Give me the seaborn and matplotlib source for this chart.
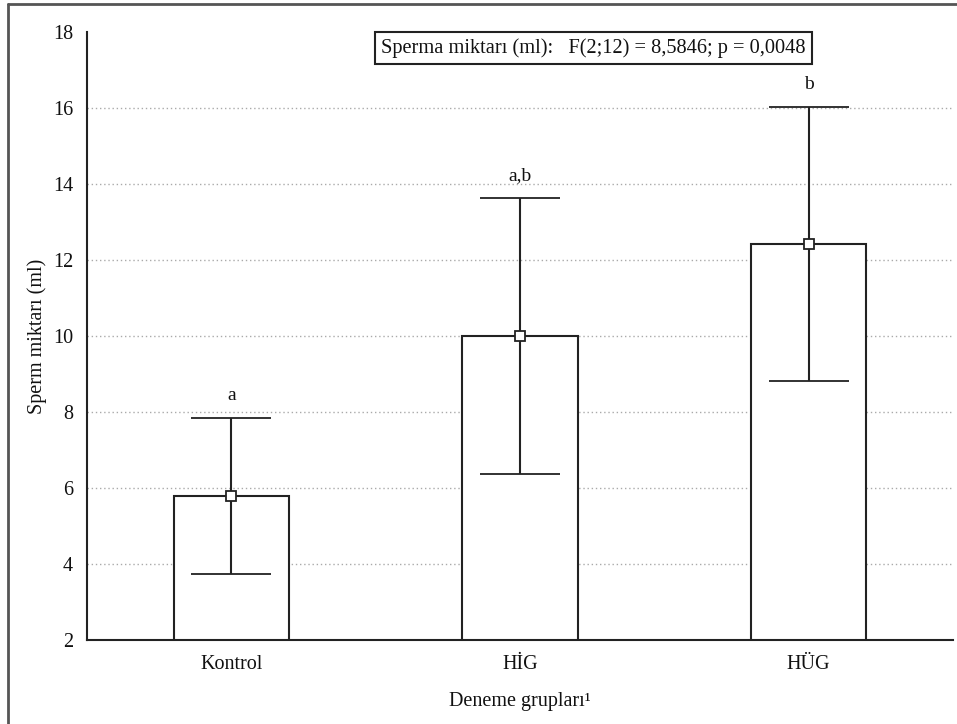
import pandas as pd
import seaborn as sns
import matplotlib
matplotlib.use("Agg")
import matplotlib.pyplot as plt
from matplotlib.lines import Line2D

groups = ["Kontrol", "HİG", "HÜG"]
means = [5.8, 10.0, 12.42]
errs = [2.05, 3.63, 3.6]
letters = ["a", "a,b", "b"]

df = pd.DataFrame({"grup": groups, "sperm": means})

sns.set_style("white")
plt.rcParams["font.family"] = ["Liberation Serif", "DejaVu Serif"]

fig = plt.figure(figsize=(9.57, 7.24), dpi=100)
ax = fig.add_axes([87 / 957, 84 / 724, 866 / 957, 608 / 724])

sns.barplot(data=df, x="grup", y="sperm", color="white", edgecolor="#222222",
            linewidth=1.5, width=0.4, errorbar=None, ax=ax)
for p in ax.patches:
    p.set_facecolor("white")

ax.errorbar(range(len(groups)), means, yerr=errs, fmt="s", color="#222222",
            ecolor="#222222", elinewidth=1.5, capsize=29, capthick=1.5,
            markersize=7, markerfacecolor="white", markeredgecolor="#222222",
            markeredgewidth=1.3, zorder=5)

for i, (m, e, lt) in enumerate(zip(means, errs, letters)):
    ax.annotate(lt, xy=(i, m + e), xytext=(0, 13), textcoords="offset points",
                ha="center", va="baseline", fontsize=14, color="#111111")

ax.set_xlim(-0.5, 2.5)
ax.set_ylim(2, 18)
ax.set_yticks(range(2, 19, 2))
ax.yaxis.grid(True, linestyle=(0, (1, 2)), color="#aaaaaa", linewidth=1)
ax.get_ygridlines()[0].set_visible(False)
ax.get_ygridlines()[-1].set_visible(False)
ax.xaxis.grid(False)

for s in ["top", "right"]:
    ax.spines[s].set_visible(False)
for s in ["left", "bottom"]:
    ax.spines[s].set_color("#222222")
    ax.spines[s].set_linewidth(1.5)

ax.tick_params(axis="both", direction="in", length=4, width=1.3,
               colors="#222222", labelsize=14.5, labelcolor="#111111")
ax.tick_params(axis="y", pad=10)
ax.tick_params(axis="x", pad=11)

ax.set_xlabel("Deneme grupları\u00b9", fontsize=14.5, labelpad=13, color="#111111")
ax.set_ylabel("Sperm miktarı (ml)", fontsize=14.5, labelpad=4, color="#111111")

ax.text(0.585, 0.974, "Sperma miktarı (ml):   F(2;12) = 8,5846; p = 0,0048",
        transform=ax.transAxes, ha="center", va="center", fontsize=14.7,
        color="#111111",
        bbox=dict(boxstyle="square,pad=0.3", facecolor="white",
                  edgecolor="#222222", linewidth=1.5))

# frame around the picture (only top and left show)
fig.add_artist(Line2D([8 / 957, 1], [1 - 4 / 724, 1 - 4 / 724],
                      transform=fig.transFigure, color="#555555", linewidth=2))
fig.add_artist(Line2D([8 / 957, 8 / 957], [0, 1 - 4 / 724],
                      transform=fig.transFigure, color="#555555", linewidth=2))

fig.savefig("out.png", dpi=100)
